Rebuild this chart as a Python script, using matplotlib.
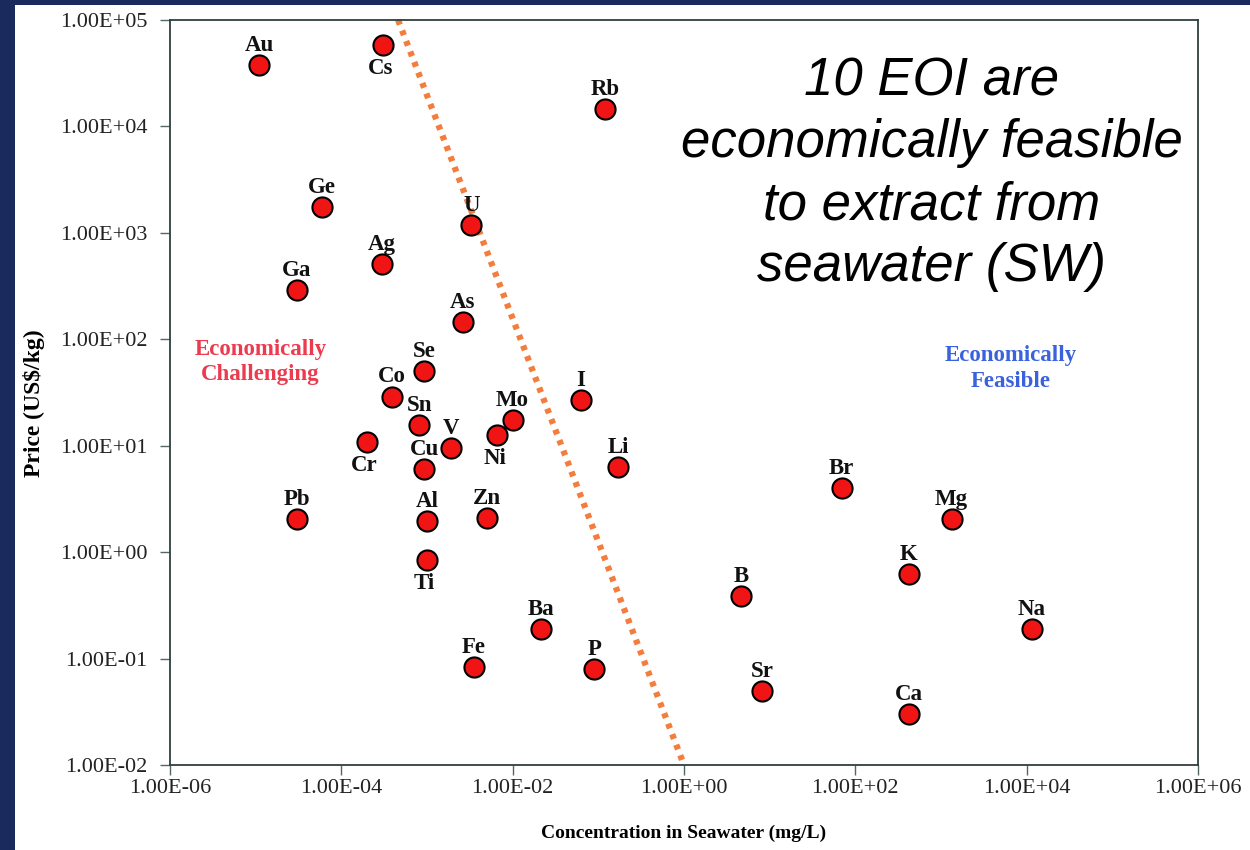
import matplotlib
matplotlib.use("Agg")
import matplotlib.pyplot as plt
from matplotlib.ticker import FuncFormatter, LogLocator, NullLocator
from matplotlib.patches import Rectangle

# element, concentration in seawater (mg/L), price (US$/kg)
elements = ["Au", "Cs", "Rb", "Ge", "U", "Ag", "Ga", "As", "Se", "Co",
            "I", "Mo", "Sn", "Ni", "Cr", "V", "Cu", "Li", "Br", "Pb",
            "Al", "Zn", "Mg", "Ti", "K", "B", "Ba", "Na", "Fe", "P",
            "Sr", "Ca"]
concentration = [1.1e-5, 3.1e-4, 0.12, 6.0e-5, 3.3e-3, 3.0e-4, 3.0e-5, 2.6e-3, 9.3e-4, 3.9e-4,
                 0.063, 1.0e-2, 8.1e-4, 6.6e-3, 2.0e-4, 1.9e-3, 9.3e-4, 0.17, 69, 3.0e-5,
                 1.0e-3, 5.0e-3, 1330, 1.0e-3, 420, 4.6, 0.0216, 1.15e4, 3.5e-3, 0.09,
                 8.2, 420]
price = [3.8e4, 5.8e4, 1.46e4, 1750, 1180, 509, 290, 145, 50, 29,
         27, 17.4, 15.6, 12.6, 10.8, 9.5, 6.0, 6.3, 4.0, 2.04,
         1.95, 2.1, 2.04, 0.84, 0.62, 0.39, 0.19, 0.19, 0.083, 0.08,
         0.05, 0.03]
# labels drawn under the marker instead of above
below = ["Cs", "Cr", "Ni", "Ti"]

# feasibility boundary
boundary_x = [4.6e-4, 1.0]
boundary_y = [1e5, 1e-2]

navy = "#1b2a5c"
fig = plt.figure(figsize=(12.5, 8.5), dpi=100, facecolor=navy)
bg = Rectangle((15 / 1250, 0), 1, 1 - 5 / 850, transform=fig.transFigure,
               facecolor="white", edgecolor="none", zorder=-10)
fig.add_artist(bg)

ax = fig.add_axes([170 / 1250, 85 / 850, 1028 / 1250, 745 / 850])
ax.set_xscale("log")
ax.set_yscale("log")
ax.set_xlim(1e-6, 1e6)
ax.set_ylim(1e-2, 1e5)

ax.plot(boundary_x, boundary_y, color="#f47c3c", lw=4.5, linestyle=(0, (0.8, 1.0)),
        zorder=2, clip_on=False)
ax.scatter(concentration, price, s=210, color="#f01414", edgecolor="black",
           linewidth=1.5, zorder=3)

serif = "Liberation Serif"
for name, cx, py in zip(elements, concentration, price):
    if name in below:
        ax.annotate(name, (cx, py), xytext=(-2, -9), textcoords="offset points",
                    ha="center", va="top", fontsize=16.5, fontweight="bold",
                    family=serif, color="#111111")
    else:
        ax.annotate(name, (cx, py), xytext=(0, 6.5), textcoords="offset points",
                    ha="center", va="bottom", fontsize=16.5, fontweight="bold",
                    family=serif, color="#111111")

ax.xaxis.set_major_locator(LogLocator(base=100))
ax.yaxis.set_major_locator(LogLocator(base=10))
ax.xaxis.set_minor_locator(NullLocator())
ax.yaxis.set_minor_locator(NullLocator())
fmt = FuncFormatter(lambda v, p: f"{v:.2E}")
ax.xaxis.set_major_formatter(fmt)
ax.yaxis.set_major_formatter(fmt)
ax.tick_params(direction="out", length=7, width=1, color="#556666", labelsize=16)
ax.tick_params(axis="x", pad=3)
ax.tick_params(axis="y", pad=9)
for lab in ax.get_xticklabels() + ax.get_yticklabels():
    lab.set_family(serif)
    lab.set_color("#222222")
for sp in ax.spines.values():
    sp.set_color("#2f3f3f")
    sp.set_linewidth(1.3)

ax.set_xlabel("Concentration in Seawater (mg/L)", family=serif, fontweight="bold",
              fontsize=14, labelpad=19)
ax.set_ylabel("Price (US$/kg)", family=serif, fontweight="bold", fontsize=17,
              labelpad=8)
ax.yaxis.set_label_coords(-0.122, 0.486)

ax.text(0.088, 0.541, "Economically\nChallenging", transform=ax.transAxes,
        ha="center", va="center", color="#ec3a4e", family=serif, fontweight="bold",
        fontsize=16.5, linespacing=1.3)
ax.text(0.818, 0.532, "Economically\nFeasible", transform=ax.transAxes,
        ha="center", va="center", color="#3a62dc", family=serif, fontweight="bold",
        fontsize=16.5, linespacing=1.3)
ax.text(0.741, 0.793, "10 EOI are\neconomically feasible\nto extract from\nseawater (SW)",
        transform=ax.transAxes, ha="center", va="center", family="Liberation Sans",
        style="italic", fontsize=38, linespacing=1.31, color="black")

fig.savefig("out.png", dpi=100, facecolor=navy)
